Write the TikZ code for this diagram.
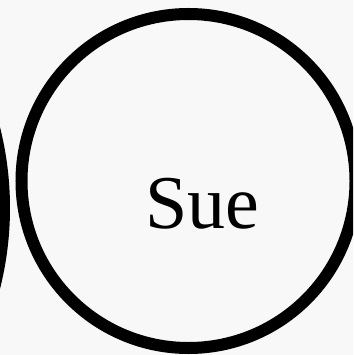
\documentclass[tikz,border=0pt]{standalone}
\usepackage{fontspec}
\setmainfont{Liberation Serif}
\definecolor{bg}{HTML}{F8F8F8}
\begin{document}
\begin{tikzpicture}[x=1pt,y=-1pt,
  ring/.style={draw=black,line width=12pt}]
\fill[bg] (0,0) rectangle (353,355);
\useasboundingbox (0,0) rectangle (353,355);
\begin{scope}
\clip (0,0) rectangle (353,355);
\draw[ring] (-319,208) circle[radius=323];
\draw[ring] (188.5,181) circle[radius=167];
\end{scope}
\node[anchor=base,inner sep=0pt,font=\fontsize{76}{80}\selectfont] (sue) at (202.5,228) {Sue};
\end{tikzpicture}
\end{document}
